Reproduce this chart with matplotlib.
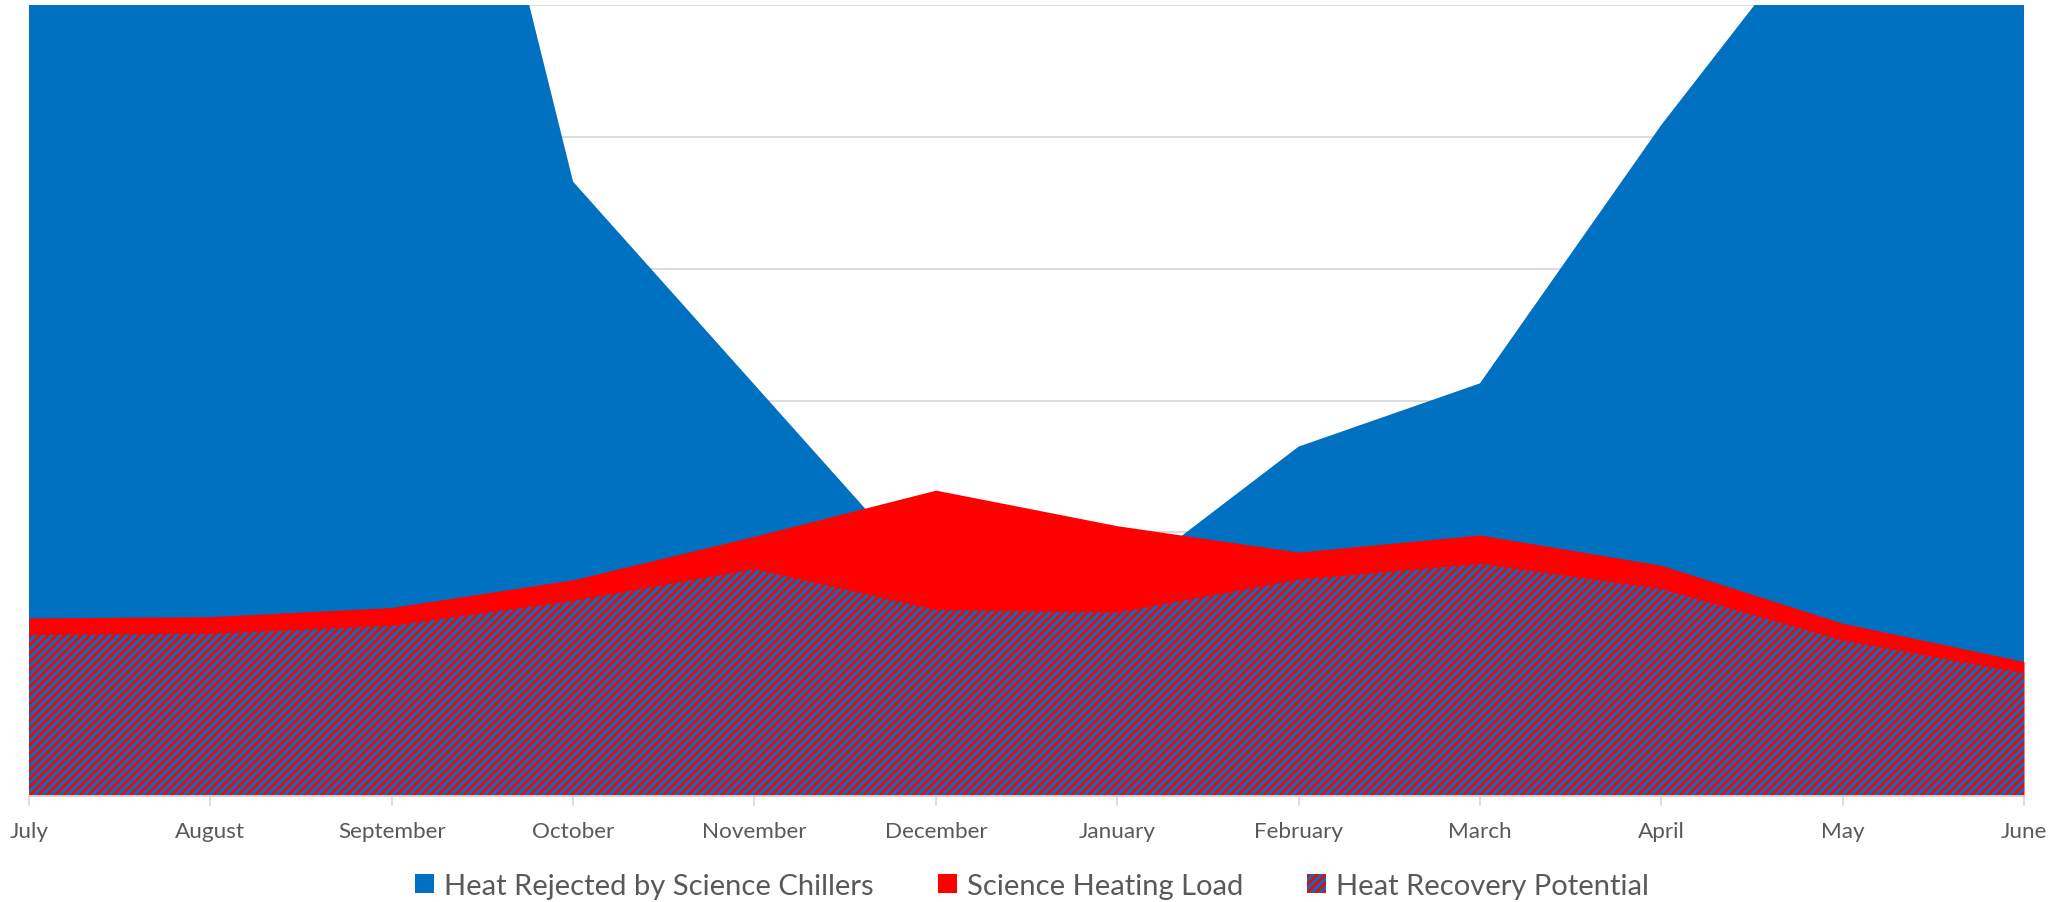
import matplotlib
matplotlib.use("Agg")
import matplotlib.pyplot as plt
from matplotlib.patches import Patch

months = ["July", "August", "September", "October", "November", "December",
          "January", "February", "March", "April", "May", "June"]
heat_rejected = [10.3, 10.6, 10.2, 4.66, 3.12, 1.58, 1.60, 2.65, 3.13, 5.09, 6.86, 7.3]
heating_load = [1.35, 1.36, 1.43, 1.64, 1.97, 2.32, 2.05, 1.85, 1.98, 1.75, 1.31, 1.02]
recovery = [1.22, 1.23, 1.29, 1.48, 1.72, 1.41, 1.39, 1.64, 1.76, 1.57, 1.18, 0.93]
legend_labels = ["Heat Rejected by Science Chillers", "Science Heating Load",
                 "Heat Recovery Potential"]

BLUE = "#0070C0"
RED = "#FF0000"
GRID = "#D9D9D9"
TXT = "#595959"

plt.rcParams["font.family"] = ["Lato", "DejaVu Sans"]
plt.rcParams["hatch.linewidth"] = 2.0

fig = plt.figure(figsize=(20.64, 9.03), dpi=100)
ax = fig.add_axes([29 / 2064, 1 - 797 / 903, (2024 - 29) / 2064, (797 - 6) / 903])

x = list(range(len(months)))
ax.fill_between(x, 0, heat_rejected, color=BLUE, linewidth=0, zorder=2)
ax.fill_between(x, 0, heating_load, color=RED, linewidth=0, zorder=3)
ax.fill_between(x, 0, recovery, facecolor=BLUE, edgecolor=RED, hatch="////",
                linewidth=0, zorder=4)

ax.set_xlim(0, len(months) - 1)
ax.set_ylim(0, 6)
ax.set_yticks(range(0, 7))
ax.yaxis.grid(True, color=GRID, linewidth=1.3, zorder=1)
ax.set_axisbelow(True)
ax.tick_params(axis="y", left=False, labelleft=False)
ax.set_xticks(x)
ax.set_xticklabels(months, fontsize=16.2, color=TXT)
ax.tick_params(axis="x", length=7, width=1.3, color=GRID, pad=11)
for s in ["top", "right", "left"]:
    ax.spines[s].set_visible(False)
ax.spines["bottom"].set_color(GRID)
ax.spines["bottom"].set_linewidth(1.3)
ax.spines["bottom"].set_zorder(5)

handles = [Patch(facecolor=BLUE, linewidth=0),
           Patch(facecolor=RED, linewidth=0),
           Patch(facecolor=BLUE, edgecolor=RED, hatch="////", linewidth=0)]
leg = fig.legend(handles, legend_labels, loc="center", bbox_to_anchor=(0.5, 1 - 887 / 903),
                 ncol=3, frameon=False, fontsize=21, handlelength=0.65, handleheight=0.65,
                 handletextpad=0.35, columnspacing=2.2, borderaxespad=0)
for t in leg.get_texts():
    t.set_color(TXT)

fig.savefig("out.png", dpi=100)
